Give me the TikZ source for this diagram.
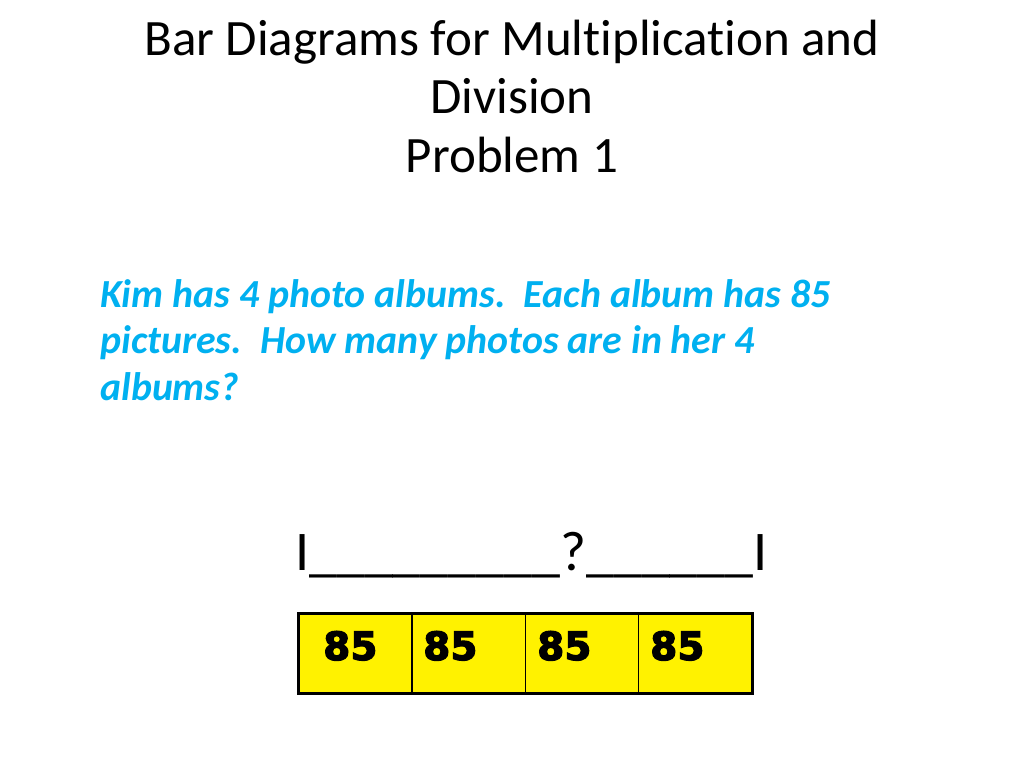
\documentclass[tikz,border=0pt]{standalone}
\usepackage{fontspec}
\setmainfont{Carlito}[Ligatures=NoCommon]
\newfontfamily\digitfont[FakeBold=3]{DejaVu Sans Bold}
\definecolor{problemblue}{HTML}{00B0F0}

\begin{document}
\begin{tikzpicture}[x=1pt,y=-1pt]
\useasboundingbox[fill=white] (0,0) rectangle (1024,768);

\node (title) at (512,172) [anchor=base, align=center, font=\fontsize{51}{58.5}\selectfont] {Bar Diagrams for Multiplication and\\Division\\Problem 1};

\node (problem) at (100,400) [anchor=base west, align=left, inner sep=0pt, text=problemblue, font=\fontsize{39.8}{46.5}\selectfont\bfseries\itshape] {Kim has 4 photo albums.\ \ Each album has 85\\pictures.\ \ How many photos are in her 4\\albums?};

\node (total) at (295,570) [anchor=base west, inner sep=0pt, font=\fontsize{56}{60}\selectfont] {I\_\_\_\_\_\_\_\_\_?\_\_\_\_\_\_I};

\foreach \i/\x in {1/298,2/411.25,3/524.5,4/637.75}
  \node (cell\i) at (\x,613) [anchor=north west, draw, line width=1.5pt, fill=yellow, minimum width=113.25pt, minimum height=79pt, inner sep=0pt] {};
\draw[line width=3pt] (cell1.north west) rectangle (cell4.south east);

\foreach \i/\x in {1/323,2/423,3/537,4/650}
  \node (num\i) at (\x,660) [anchor=base west, inner sep=0pt, font=\digitfont\fontsize{39}{39}\selectfont] {85};
\end{tikzpicture}
\end{document}
